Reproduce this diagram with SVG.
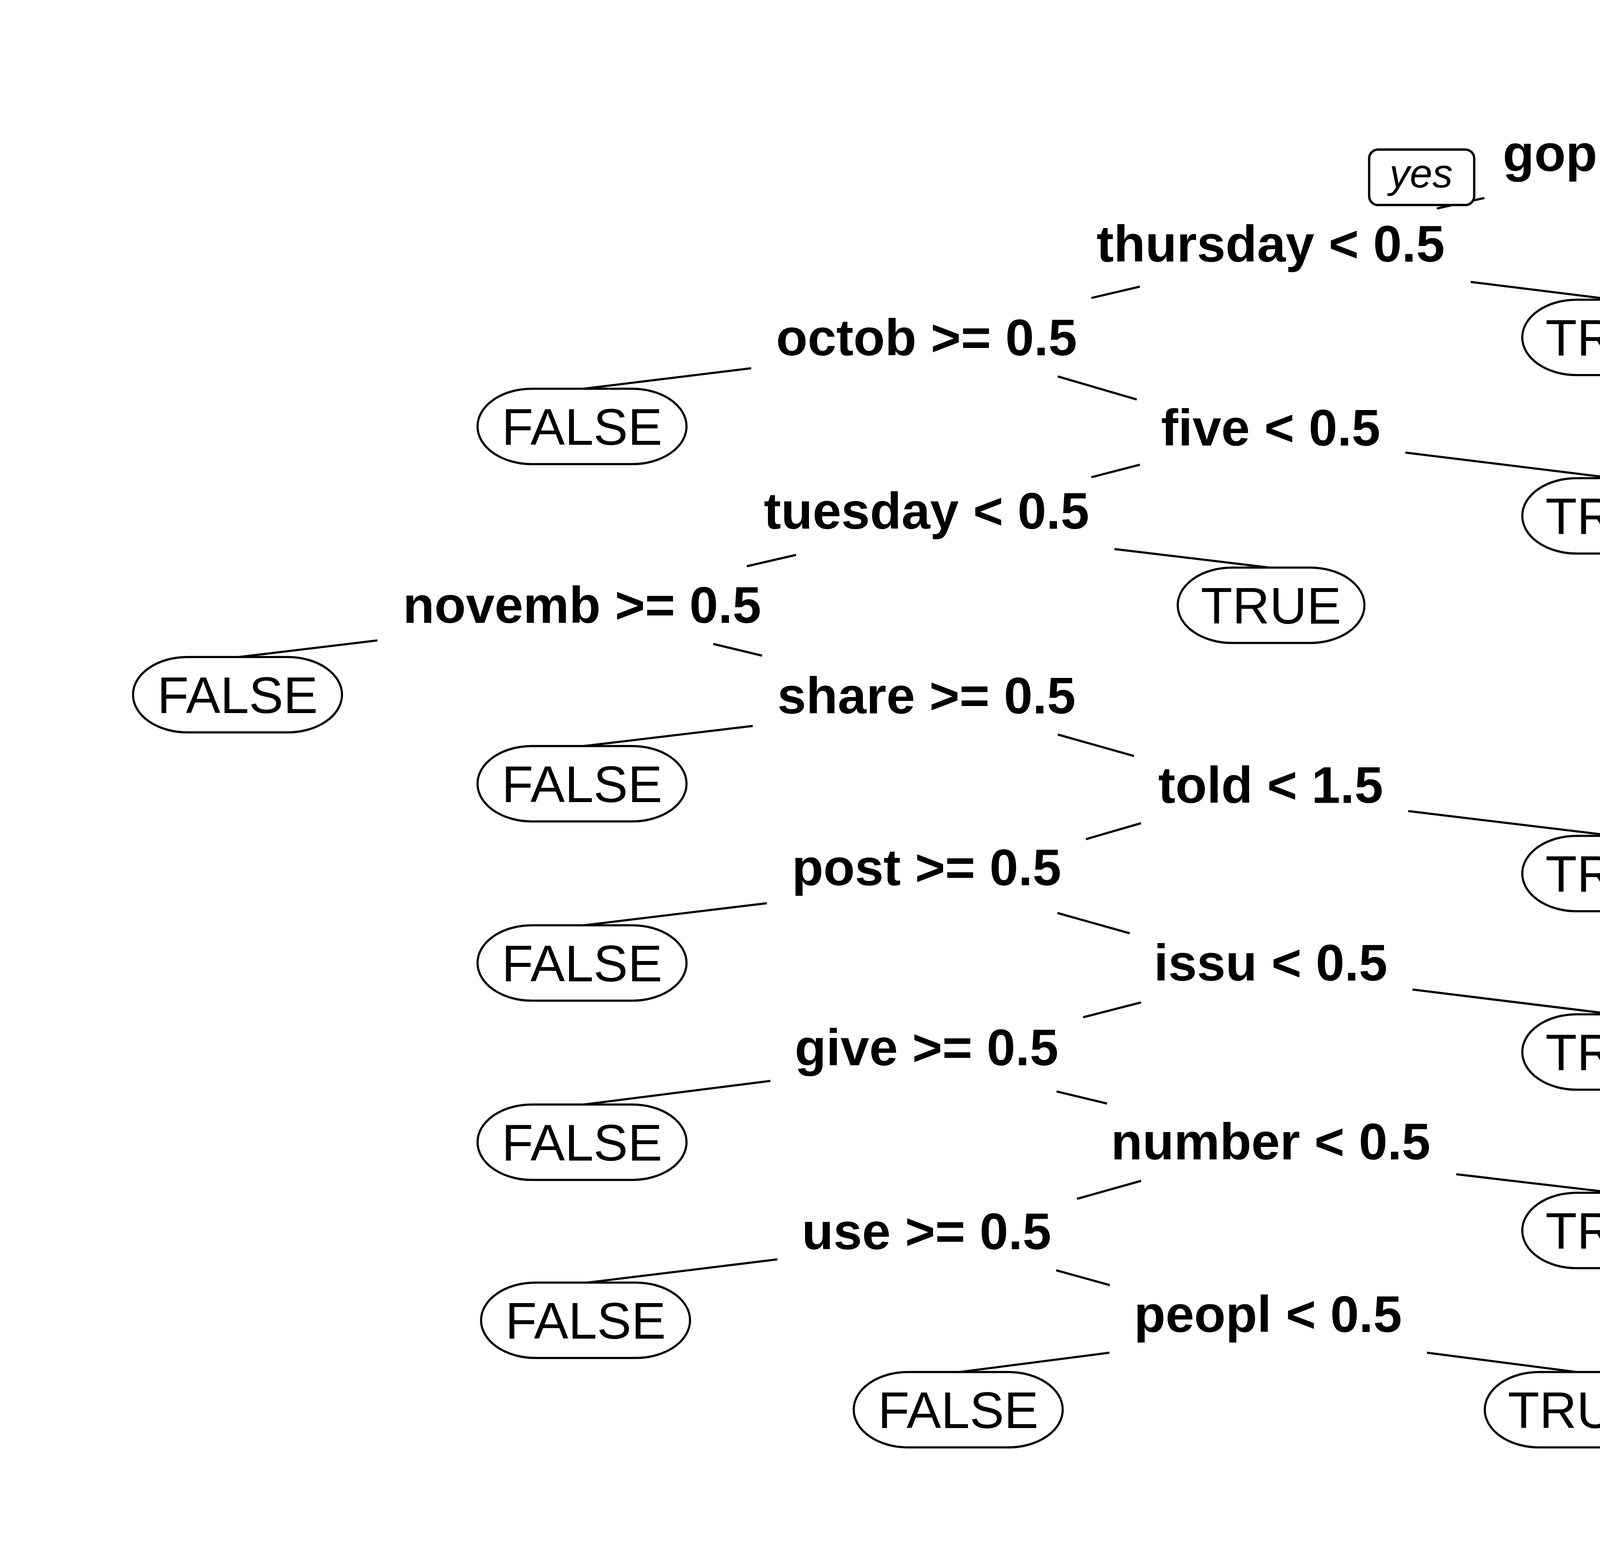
<svg xmlns="http://www.w3.org/2000/svg" width="5600" height="4000" viewBox="0 0 5600 4000">
<style>
.bg{fill:#ffffff}
.edge{stroke:#000;stroke-width:5.5;fill:none;stroke-linecap:butt}
.split{font-family:"Liberation Sans",Arial,sans-serif;font-weight:bold;font-size:132px;fill:#000;text-anchor:middle}
.leaf rect{fill:#fff;stroke:#000;stroke-width:5.5}
.leaf text{font-family:"Liberation Sans",Arial,sans-serif;font-size:132px;fill:#000;text-anchor:middle}
.yn rect{fill:#fff;stroke:#000;stroke-width:6}
.yn text{font-family:"Liberation Sans",Arial,sans-serif;font-style:italic;font-size:104px;fill:#000;text-anchor:middle}
</style>
<rect class="bg" x="0" y="0" width="5600" height="4000"/>
<g id="connectors">
<line class="edge" x1="3678" y1="534" x2="3800" y2="507"/>
<line class="edge" x1="4482" y1="471.5" x2="5018" y2="539"/>
<line class="edge" x1="2794" y1="763" x2="2918" y2="734"/>
<line class="edge" x1="3765" y1="722" x2="4136" y2="768"/>
<line class="edge" x1="1923" y1="943" x2="1490" y2="996"/>
<line class="edge" x1="2708" y1="964" x2="2910" y2="1023"/>
<line class="edge" x1="2794" y1="1222" x2="2918" y2="1190"/>
<line class="edge" x1="3598" y1="1159" x2="4136" y2="1225"/>
<line class="edge" x1="1912" y1="1450" x2="2038" y2="1421"/>
<line class="edge" x1="2853" y1="1406" x2="3254" y2="1454"/>
<line class="edge" x1="966" y1="1640" x2="608" y2="1683"/>
<line class="edge" x1="1826" y1="1649" x2="1951" y2="1679"/>
<line class="edge" x1="1927" y1="1859" x2="1490" y2="1911"/>
<line class="edge" x1="2708" y1="1881" x2="2903" y2="1936"/>
<line class="edge" x1="2780" y1="2149" x2="2921" y2="2108"/>
<line class="edge" x1="3605" y1="2077" x2="4136" y2="2141"/>
<line class="edge" x1="1963" y1="2313" x2="1490" y2="2370"/>
<line class="edge" x1="2707" y1="2338" x2="2892" y2="2390"/>
<line class="edge" x1="2773" y1="2605" x2="2921" y2="2567"/>
<line class="edge" x1="3616" y1="2534" x2="4136" y2="2598"/>
<line class="edge" x1="1972" y1="2768" x2="1490" y2="2829"/>
<line class="edge" x1="2705" y1="2795" x2="2834" y2="2826"/>
<line class="edge" x1="2757" y1="3070" x2="2921" y2="3024"/>
<line class="edge" x1="3728" y1="3007" x2="4136" y2="3055"/>
<line class="edge" x1="1990" y1="3225" x2="1499" y2="3285"/>
<line class="edge" x1="2704" y1="3253" x2="2841" y2="3291"/>
<line class="edge" x1="2840" y1="3464" x2="2453" y2="3514"/>
<line class="edge" x1="3653" y1="3464" x2="4040" y2="3514"/>
</g>
<g id="yes-label" class="yn"><rect x="3505" y="383" width="269" height="142" rx="23" ry="23"/><text x="3638" y="480">yes</text></g>
<g id="no-label" class="yn"><rect x="4492" y="383" width="223" height="142" rx="23" ry="23"/><text x="4603" y="480">no</text></g>
<g id="n1"><text class="split" x="4135" y="438">gop &lt; 0.5</text></g>
<g id="n2"><text class="split" x="3253" y="670">thursday &lt; 0.5</text></g>
<g id="n4"><text class="split" x="2372" y="910">octob &gt;= 0.5</text></g>
<g id="n9"><text class="split" x="3253" y="1141">five &lt; 0.5</text></g>
<g id="n18"><text class="split" x="2372" y="1354">tuesday &lt; 0.5</text></g>
<g id="n36"><text class="split" x="1490" y="1595">novemb &gt;= 0.5</text></g>
<g id="n73"><text class="split" x="2372" y="1827">share &gt;= 0.5</text></g>
<g id="n147"><text class="split" x="3253" y="2056">told &lt; 1.5</text></g>
<g id="n294"><text class="split" x="2372" y="2267">post &gt;= 0.5</text></g>
<g id="n589"><text class="split" x="3253" y="2511">issu &lt; 0.5</text></g>
<g id="n1178"><text class="split" x="2372" y="2728">give &gt;= 0.5</text></g>
<g id="n2357"><text class="split" x="3253" y="2969">number &lt; 0.5</text></g>
<g id="n4714"><text class="split" x="2372" y="3199">use &gt;= 0.5</text></g>
<g id="n9429"><text class="split" x="3246" y="3411">peopl &lt; 0.5</text></g>
<g id="leaf3" class="leaf"><rect x="4779" y="538.5" width="478" height="193" rx="139" ry="96.5"/><text x="5018" y="682">TRUE</text></g>
<g id="leaf5" class="leaf"><rect x="3897" y="767.5" width="478" height="193" rx="139" ry="96.5"/><text x="4136" y="911">TRUE</text></g>
<g id="leaf8" class="leaf"><rect x="1222.5" y="995.5" width="535" height="193" rx="139" ry="96.5"/><text x="1490" y="1139">FALSE</text></g>
<g id="leaf19" class="leaf"><rect x="3897" y="1224.5" width="478" height="193" rx="139" ry="96.5"/><text x="4136" y="1368">TRUE</text></g>
<g id="leaf37" class="leaf"><rect x="3015" y="1453.5" width="478" height="193" rx="139" ry="96.5"/><text x="3254" y="1597">TRUE</text></g>
<g id="leaf72" class="leaf"><rect x="340.5" y="1682.5" width="535" height="193" rx="139" ry="96.5"/><text x="608" y="1826">FALSE</text></g>
<g id="leaf146" class="leaf"><rect x="1222.5" y="1910.5" width="535" height="193" rx="139" ry="96.5"/><text x="1490" y="2054">FALSE</text></g>
<g id="leaf295" class="leaf"><rect x="3897" y="2140.5" width="478" height="193" rx="139" ry="96.5"/><text x="4136" y="2284">TRUE</text></g>
<g id="leaf588" class="leaf"><rect x="1222.5" y="2369.5" width="535" height="193" rx="139" ry="96.5"/><text x="1490" y="2513">FALSE</text></g>
<g id="leaf1179" class="leaf"><rect x="3897" y="2597.5" width="478" height="193" rx="139" ry="96.5"/><text x="4136" y="2741">TRUE</text></g>
<g id="leaf2356" class="leaf"><rect x="1222.5" y="2828.5" width="535" height="193" rx="139" ry="96.5"/><text x="1490" y="2972">FALSE</text></g>
<g id="leaf4715" class="leaf"><rect x="3897" y="3054.5" width="478" height="193" rx="139" ry="96.5"/><text x="4136" y="3198">TRUE</text></g>
<g id="leaf9428" class="leaf"><rect x="1231.5" y="3284.5" width="535" height="193" rx="139" ry="96.5"/><text x="1499" y="3428">FALSE</text></g>
<g id="leaf18858" class="leaf"><rect x="2185.5" y="3513.5" width="535" height="193" rx="139" ry="96.5"/><text x="2453" y="3657">FALSE</text></g>
<g id="leaf18859" class="leaf"><rect x="3801" y="3513.5" width="478" height="193" rx="139" ry="96.5"/><text x="4040" y="3657">TRUE</text></g>
</svg>
